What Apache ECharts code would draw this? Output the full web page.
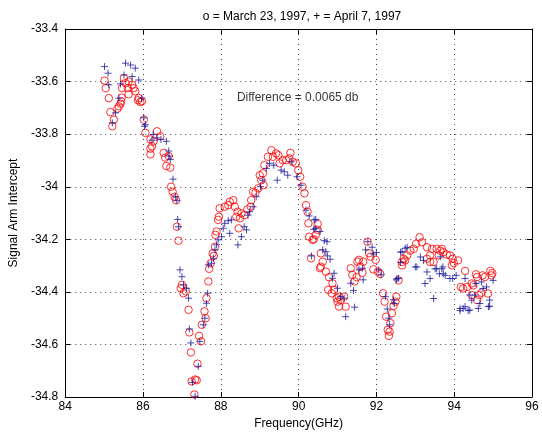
<!DOCTYPE html>
<html>
<head>
<meta charset="utf-8">
<script src="https://cdn.jsdelivr.net/npm/echarts@6/dist/echarts.min.js"></script>
<style>html,body{margin:0;padding:0;background:#fff}#c{width:542px;height:435px}</style>
</head>
<body>
<div id="c"></div>
<script>
const titleText = 'o = March 23, 1997, + = April 7, 1997';
const noteText = 'Difference = 0.0065 db';
const notePos = [88.4, -33.66];
const xTicks = {min: 84, max: 96, step: 2};
const yTicks = {min: -34.8, max: -33.4, step: 0.2};

// March 23, 1997 (o)
const marchFreq = [85.01,85.04,85.12,85.16,85.21,85.25,85.34,85.38,85.42,85.44,85.45,85.46,85.51,85.55,85.61,85.63,85.63,85.72,85.76,85.80,85.87,85.89,85.93,85.97,86.02,86.06,86.19,86.19,86.19,86.23,86.27,86.36,86.44,86.53,86.57,86.60,86.66,86.70,86.72,86.76,86.81,86.85,86.87,86.91,86.97,87.00,87.04,87.10,87.17,87.19,87.23,87.25,87.32,87.34,87.38,87.40,87.44,87.49,87.51,87.58,87.61,87.63,87.68,87.70,87.74,87.79,87.82,87.85,87.86,87.89,87.93,87.95,87.97,88.10,88.19,88.23,88.32,88.36,88.40,88.43,88.46,88.49,88.53,88.61,88.68,88.77,88.78,88.83,88.89,88.96,89.00,89.04,89.08,89.10,89.12,89.21,89.30,89.34,89.42,89.48,89.51,89.59,89.68,89.76,89.79,89.85,89.93,89.99,90.04,90.10,90.15,90.19,90.23,90.25,90.27,90.32,90.36,90.39,90.44,90.49,90.49,90.55,90.57,90.57,90.62,90.70,90.76,90.78,90.85,90.87,90.91,90.98,91.00,91.04,91.04,91.08,91.17,91.21,91.34,91.38,91.44,91.49,91.51,91.55,91.59,91.64,91.66,91.77,91.81,91.85,91.92,91.98,92.04,92.10,92.17,92.21,92.25,92.29,92.32,92.34,92.36,92.40,92.44,92.49,92.51,92.57,92.66,92.66,92.70,92.74,92.79,92.87,92.96,93.02,93.11,93.17,93.30,93.30,93.38,93.38,93.43,93.47,93.55,93.60,93.64,93.68,93.72,93.81,93.89,93.94,93.96,93.99,94.10,94.17,94.23,94.28,94.33,94.45,94.45,94.49,94.56,94.59,94.59,94.64,94.70,94.73,94.79,94.87,94.93,94.96,94.98];
const marchVal = [-33.596,-33.625,-33.663,-33.716,-33.770,-33.745,-33.703,-33.694,-33.684,-33.675,-33.661,-33.625,-33.587,-33.606,-33.625,-33.600,-33.648,-33.612,-33.625,-33.637,-33.671,-33.663,-33.678,-33.675,-33.745,-33.795,-33.820,-33.855,-33.877,-33.846,-33.827,-33.789,-33.808,-33.871,-33.889,-33.921,-33.883,-33.927,-34.000,-34.019,-34.038,-34.051,-34.152,-34.205,-34.386,-34.373,-34.405,-34.398,-34.468,-34.554,-34.630,-34.740,-34.790,-34.733,-34.736,-34.673,-34.567,-34.588,-34.525,-34.474,-34.500,-34.424,-34.360,-34.312,-34.291,-34.253,-34.263,-34.228,-34.183,-34.170,-34.126,-34.114,-34.082,-34.076,-34.070,-34.057,-34.051,-34.076,-34.114,-34.095,-34.158,-34.120,-34.101,-34.108,-34.086,-34.076,-34.051,-34.019,-34.023,-34.006,-33.956,-33.975,-33.949,-33.994,-33.918,-33.886,-33.861,-33.886,-33.873,-33.880,-33.911,-33.899,-33.899,-33.892,-33.871,-33.905,-33.911,-33.937,-33.962,-34.000,-34.025,-34.070,-34.095,-34.139,-34.190,-34.272,-34.202,-34.200,-34.183,-34.142,-34.164,-34.310,-34.253,-34.304,-34.285,-34.323,-34.392,-34.344,-34.405,-34.367,-34.392,-34.424,-34.437,-34.418,-34.456,-34.430,-34.418,-34.456,-34.310,-34.335,-34.360,-34.344,-34.285,-34.278,-34.304,-34.327,-34.285,-34.209,-34.253,-34.266,-34.314,-34.278,-34.323,-34.332,-34.405,-34.437,-34.494,-34.544,-34.567,-34.551,-34.519,-34.481,-34.453,-34.437,-34.418,-34.356,-34.286,-34.299,-34.274,-34.280,-34.261,-34.243,-34.236,-34.217,-34.192,-34.211,-34.230,-34.274,-34.261,-34.286,-34.236,-34.286,-34.236,-34.261,-34.243,-34.236,-34.249,-34.258,-34.261,-34.299,-34.274,-34.290,-34.280,-34.381,-34.387,-34.320,-34.381,-34.368,-34.412,-34.375,-34.333,-34.343,-34.431,-34.412,-34.403,-34.337,-34.343,-34.406,-34.320,-34.337,-34.328];

// April 7, 1997 (+)
const aprilFreq = [85.01,85.10,85.55,85.68,85.80,85.51,85.72,85.89,85.12,85.42,85.38,85.97,85.29,85.21,86.02,86.04,86.06,86.23,86.26,86.36,86.46,86.60,86.66,86.67,86.70,86.77,86.83,86.87,86.89,86.91,86.95,87.00,87.04,87.12,87.17,87.19,87.23,87.27,87.34,87.42,87.46,87.55,87.59,87.63,87.66,87.68,87.76,87.81,87.85,87.89,87.93,88.02,88.06,88.10,88.19,88.27,88.23,88.44,88.53,88.60,88.66,88.70,88.74,88.83,88.91,89.02,89.08,89.17,89.25,89.36,89.45,89.55,89.63,89.72,89.81,89.96,90.06,90.19,90.27,90.39,90.40,90.44,90.44,90.55,90.62,90.66,90.73,90.33,90.70,90.74,90.81,90.91,90.87,91.00,91.08,91.17,91.21,91.34,91.41,91.44,91.55,91.64,91.66,91.72,91.78,91.89,91.92,92.00,92.06,92.12,92.23,92.28,92.32,92.34,92.44,92.46,92.51,92.53,92.57,92.62,92.62,92.66,92.74,92.79,93.00,93.04,93.13,93.21,93.25,93.30,93.38,93.47,93.51,93.55,93.62,93.64,93.68,93.71,93.72,93.77,93.89,93.96,94.05,94.15,94.15,94.23,94.28,94.28,94.36,94.40,94.40,94.45,94.53,94.56,94.62,94.66,94.70,94.74,94.83,94.88,94.91,94.91,95.00];
const aprilVal = [-33.543,-33.568,-33.530,-33.537,-33.549,-33.575,-33.581,-33.594,-33.612,-33.609,-33.663,-33.663,-33.719,-33.757,-33.738,-33.770,-33.764,-33.823,-33.801,-33.814,-33.820,-33.827,-33.864,-33.883,-33.896,-33.971,-34.038,-34.053,-34.124,-34.152,-34.316,-34.342,-34.373,-34.386,-34.424,-34.541,-34.594,-34.744,-34.797,-34.683,-34.588,-34.525,-34.500,-34.443,-34.405,-34.297,-34.291,-34.272,-34.240,-34.221,-34.202,-34.190,-34.158,-34.139,-34.129,-34.126,-34.177,-34.221,-34.190,-34.152,-34.164,-34.108,-34.095,-34.076,-34.038,-34.000,-33.975,-33.930,-33.911,-33.918,-33.975,-33.937,-33.943,-33.956,-33.905,-33.962,-33.994,-34.089,-34.111,-34.162,-34.126,-34.158,-34.124,-34.170,-34.240,-34.205,-34.209,-34.263,-34.247,-34.263,-34.276,-34.329,-34.348,-34.386,-34.418,-34.424,-34.494,-34.367,-34.395,-34.458,-34.316,-34.310,-34.354,-34.240,-34.209,-34.230,-34.256,-34.250,-34.316,-34.335,-34.418,-34.465,-34.500,-34.525,-34.430,-34.444,-34.354,-34.349,-34.348,-34.288,-34.249,-34.247,-34.234,-34.230,-34.305,-34.305,-34.267,-34.280,-34.368,-34.324,-34.349,-34.425,-34.312,-34.312,-34.331,-34.267,-34.312,-34.305,-34.331,-34.337,-34.349,-34.349,-34.337,-34.463,-34.471,-34.463,-34.349,-34.456,-34.471,-34.412,-34.469,-34.431,-34.412,-34.368,-34.463,-34.444,-34.362,-34.387,-34.381,-34.456,-34.431,-34.454,-34.356];

const pair = (xs, ys) => xs.map((x, i) => [x, ys[i]]);
const FONT = 'Liberation Sans, Arial, Helvetica, sans-serif';
const gridLine = {show: true, lineStyle: {color: '#444', width: 1, type: [1, 4]}};
const frame = {show: true, onZero: false, lineStyle: {color: '#000', width: 1}};
const tick = {show: true, inside: true, length: 5, lineStyle: {color: '#000'}};

const chart = echarts.init(document.getElementById('c'), null, {renderer: 'canvas'});
chart.setOption({
  animation: false,
  backgroundColor: '#fff',
  title: {
    text: titleText, left: 297, top: 6, textAlign: 'center',
    textStyle: {fontFamily: FONT, fontSize: 12, fontWeight: 'normal', color: '#000'}
  },
  grid: {left: 63, right: 10, top: 29, bottom: 36, containLabel: false},
  xAxis: [{
    type: 'value', min: xTicks.min, max: xTicks.max, interval: xTicks.step,
    name: 'Frequency(GHz)', nameLocation: 'middle', nameGap: 16,
    nameTextStyle: {fontFamily: FONT, fontSize: 12, color: '#000'},
    axisLine: frame, axisTick: tick, splitLine: gridLine,
    axisLabel: {margin: 4, fontFamily: FONT, fontSize: 12, color: '#000'}
  }, {
    type: 'value', position: 'top', min: xTicks.min, max: xTicks.max, interval: xTicks.step,
    axisLine: frame, axisTick: tick, splitLine: {show: false}, axisLabel: {show: false}
  }],
  yAxis: [{
    type: 'value', min: yTicks.min, max: yTicks.max, interval: yTicks.step,
    name: 'Signal Arm Intercept', nameLocation: 'middle', nameGap: 43,
    nameTextStyle: {fontFamily: FONT, fontSize: 12, color: '#000'},
    axisLine: frame, axisTick: tick, splitLine: gridLine,
    axisLabel: {margin: 7, fontFamily: FONT, fontSize: 12, color: '#000'}
  }, {
    type: 'value', position: 'right', min: yTicks.min, max: yTicks.max, interval: yTicks.step,
    axisLine: frame, axisTick: tick, splitLine: {show: false}, axisLabel: {show: false}
  }],
  series: [{
    name: 'March 23, 1997', type: 'scatter', xAxisIndex: 0, yAxisIndex: 0,
    data: pair(marchFreq, marchVal),
    symbol: 'circle', symbolSize: 7.5,
    itemStyle: {color: 'transparent', borderColor: '#ff0000', borderWidth: 1},
    emphasis: {disabled: true}, silent: true
  }, {
    name: 'April 7, 1997', type: 'scatter', xAxisIndex: 0, yAxisIndex: 0,
    data: pair(aprilFreq, aprilVal),
    symbol: 'path://M5,0L5,10M0,5L10,5', symbolSize: 7,
    itemStyle: {color: 'transparent', borderColor: '#1c1c9e', borderWidth: 1},
    emphasis: {disabled: true}, silent: true
  }, {
    type: 'scatter', xAxisIndex: 0, yAxisIndex: 0,
    data: [notePos], symbolSize: 1, itemStyle: {color: 'transparent'},
    silent: true,
    label: {show: true, position: 'right', distance: 0, formatter: noteText,
      fontFamily: FONT, fontSize: 12, color: '#000'}
  }]
});
</script>
</body>
</html>
